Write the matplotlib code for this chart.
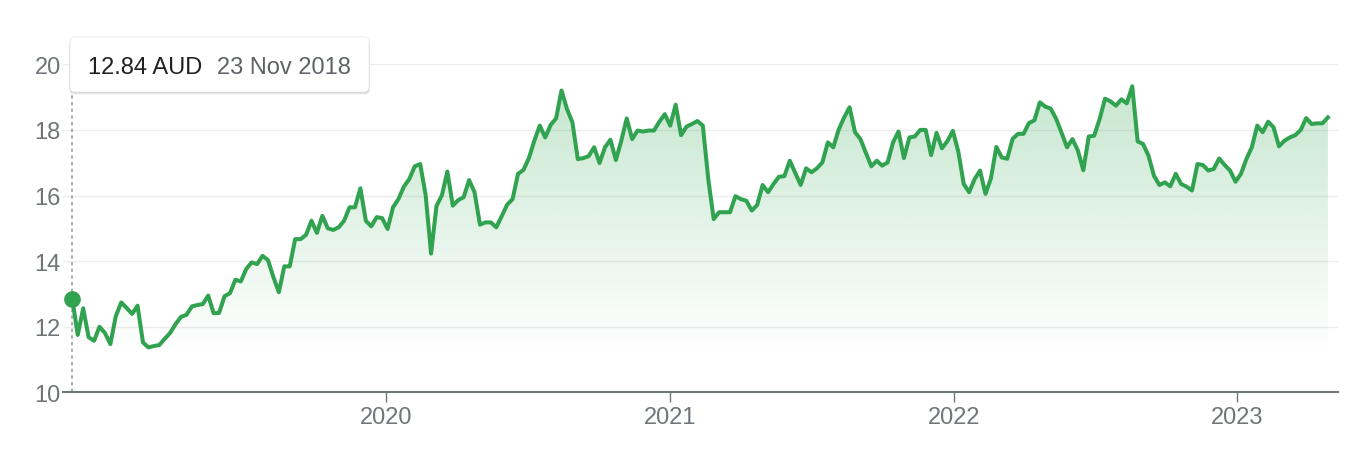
import matplotlib
matplotlib.use("Agg")
import matplotlib.pyplot as plt
import matplotlib.dates as mdates
import matplotlib.transforms as mtransforms
from matplotlib.patches import FancyBboxPatch
import numpy as np
import pandas as pd

plt.rcParams['font.family'] = ['Liberation Sans', 'DejaVu Sans']

# ---- data (weekly closes, AUD) ----
start_date = '2018-11-23'
prices = [
    12.84, 11.75, 12.56, 11.68, 11.57, 12.00, 11.81, 11.47, 12.32, 12.74,
    12.57, 12.39, 12.64, 11.52, 11.37, 11.41, 11.44, 11.63, 11.81, 12.08,
    12.30, 12.36, 12.62, 12.66, 12.69, 12.95, 12.41, 12.42, 12.93, 13.02,
    13.43, 13.38, 13.76, 13.96, 13.91, 14.16, 14.03, 13.51, 13.05, 13.84,
    13.84, 14.67, 14.67, 14.80, 15.23, 14.86, 15.38, 15.00, 14.95, 15.03,
    15.23, 15.64, 15.64, 16.22, 15.23, 15.06, 15.34, 15.31, 14.98, 15.64,
    15.89, 16.27, 16.50, 16.89, 16.96, 16.02, 14.23, 15.68, 16.01, 16.73,
    15.69, 15.86, 15.95, 16.47, 16.10, 15.11, 15.18, 15.18, 15.03, 15.37,
    15.72, 15.89, 16.66, 16.78, 17.14, 17.67, 18.13, 17.77, 18.15, 18.35,
    19.20, 18.64, 18.23, 17.11, 17.14, 17.20, 17.47, 16.99, 17.47, 17.70,
    17.08, 17.67, 18.35, 17.72, 17.98, 17.95, 17.98, 17.98, 18.25, 18.48,
    18.13, 18.77, 17.84, 18.10, 18.18, 18.27, 18.13, 16.50, 15.28, 15.49,
    15.49, 15.49, 15.98, 15.89, 15.84, 15.54, 15.71, 16.32, 16.10, 16.35,
    16.57, 16.59, 17.06, 16.69, 16.32, 16.83, 16.71, 16.83, 17.01, 17.62,
    17.47, 18.01, 18.38, 18.69, 17.93, 17.72, 17.30, 16.89, 17.06, 16.91,
    17.01, 17.62, 17.95, 17.14, 17.77, 17.80, 18.00, 18.00, 17.23, 17.91,
    17.44, 17.66, 17.97, 17.34, 16.35, 16.10, 16.50, 16.76, 16.05, 16.52,
    17.48, 17.16, 17.12, 17.73, 17.88, 17.88, 18.21, 18.29, 18.84, 18.71,
    18.65, 18.34, 17.91, 17.47, 17.72, 17.37, 16.77, 17.80, 17.82, 18.33,
    18.95, 18.87, 18.74, 18.93, 18.81, 19.33, 17.65, 17.57, 17.21, 16.60,
    16.32, 16.40, 16.28, 16.66, 16.35, 16.27, 16.15, 16.96, 16.93, 16.76,
    16.81, 17.13, 16.93, 16.76, 16.42, 16.66, 17.11, 17.47, 18.13, 17.93,
    18.25, 18.08, 17.50, 17.67, 17.77, 17.84, 18.00, 18.36, 18.18, 18.20,
    18.20, 18.38,
]
y_ticks = [10, 12, 14, 16, 18, 20]
x_tick_years = [2020, 2021, 2022, 2023]
x_range = ('2018-11-11', '2023-05-11')
tooltip_price = '12.84 AUD'
tooltip_date = '23 Nov 2018'

# ---- styling ----
GREEN = '#31a350'
GREY = '#70757a'
W, H = 1360, 464

dates = pd.date_range(start_date, periods=len(prices), freq='7D')
x = mdates.date2num(dates)
y = np.array(prices)

fig = plt.figure(figsize=(W / 100, H / 100), dpi=100)
ax = fig.add_axes([63 / W, (H - 393.3) / H, (1338 - 63) / W, 328 / H])
x0, x1 = mdates.date2num(pd.Timestamp(x_range[0])), mdates.date2num(pd.Timestamp(x_range[1]))

# gradient fill under the line
ymax = y.max()
yy = np.linspace(10, ymax, 300)
alpha = np.clip((yy - 11.2) / (ymax - 11.2), 0, 1) * 0.28
rgba = np.zeros((300, 2, 4))
rgba[..., 0] = 52 / 255
rgba[..., 1] = 168 / 255
rgba[..., 2] = 83 / 255
rgba[..., 3] = alpha[:, None]
im = ax.imshow(rgba, extent=[x0, x1, 10, ymax], origin='lower', aspect='auto',
               zorder=1, interpolation='bilinear')
poly = ax.fill_between(x, y, 10, facecolor='none', edgecolor='none')
im.set_clip_path(poly.get_paths()[0], ax.transData)
ax.set_xlim(x0, x1)
ax.set_ylim(10, 20)

# dotted crosshair line
ax.plot([x[0], x[0]], [10, 19.16], linestyle=(0, (2, 2)), color='#9aa0a6',
        lw=1.2, zorder=2, clip_on=False)

ax.plot(x, y, color=GREEN, lw=2.9, zorder=3, solid_joinstyle='round')
ax.plot([x[0]], [y[0]], 'o', ms=11, color=GREEN, zorder=4)

# axes styling
for s in ['top', 'right', 'left']:
    ax.spines[s].set_visible(False)
ax.spines['bottom'].set_color(GREY)
ax.spines['bottom'].set_linewidth(1.5)
ax.set_yticks(y_ticks)
ax.yaxis.grid(True, color='#ececec', lw=1)
ax.set_axisbelow(True)
ax.tick_params(axis='y', length=0, pad=1.5, labelsize=17, labelcolor=GREY)
ax.set_xticks([mdates.date2num(pd.Timestamp(f'{yr}-01-01')) for yr in x_tick_years])
ax.set_xticklabels([str(yr) for yr in x_tick_years])
ax.tick_params(axis='x', length=7, width=1, color=GREY, pad=3,
               labelsize=17, labelcolor=GREY)
ax.set_facecolor('none')

# tooltip
ident = mtransforms.IdentityTransform()
bx, by, bw, bh = 70, H - 93, 299, 55
for off, a in [(3, 0.04), (2, 0.06), (1, 0.08)]:
    sh = FancyBboxPatch((bx - off * 0.3, by - off), bw + off * 0.6, bh,
                        boxstyle='round,pad=0,rounding_size=5',
                        transform=ident, facecolor='black', edgecolor='none',
                        alpha=a, zorder=9)
    fig.add_artist(sh)
box = FancyBboxPatch((bx, by), bw, bh, boxstyle='round,pad=0,rounding_size=5',
                     transform=ident, facecolor='white', edgecolor='#e6e6e6',
                     lw=0.5, zorder=10)
fig.add_artist(box)
fig.text(88 / W, 1 - 74 / H, tooltip_price, fontsize=17, color='#202124',
         va='baseline', ha='left', zorder=11)
fig.text(217 / W, 1 - 74 / H, tooltip_date, fontsize=17, color='#5f6368',
         va='baseline', ha='left', zorder=11)

fig.savefig('out.png', dpi=100, facecolor='white')
